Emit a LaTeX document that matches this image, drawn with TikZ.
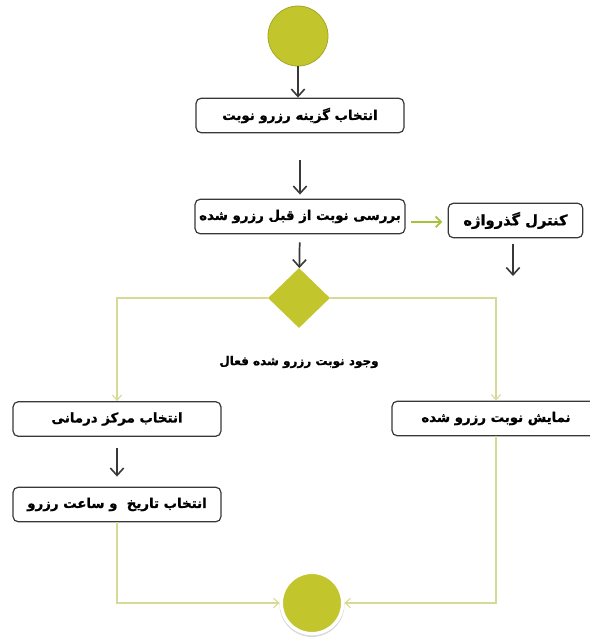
\documentclass[tikz,border=0pt]{standalone}
\usepackage{fontspec}
\newfontfamily\farsi[Script=Arabic,BoldFeatures={FakeBold=1.2}]{DejaVu Sans}
\TeXXeTstate=1
\usetikzlibrary{shapes.geometric,arrows.meta,shadows}
\definecolor{UmlOlive}{HTML}{C3C52C}
\definecolor{UmlOliveDark}{HTML}{A5A723}
\definecolor{PaleLine}{HTML}{D6DA94}
\definecolor{GreenArrow}{HTML}{A6C23A}
\definecolor{FlowGray}{HTML}{383838}
\begin{document}
\begin{tikzpicture}[x=0.75pt,y=-0.75pt,
	activity/.style={draw=FlowGray,line width=0.9pt,rounded corners=4pt,fill=white,inner sep=0pt,minimum width=156pt,minimum height=26pt,font=\farsi\bfseries\fontsize{10}{12}\selectfont},
	flow/.style={draw=FlowGray,line width=1.3pt,-{Straight Barb[length=5.5pt,width=10pt,line width=1.2pt]}},
	branch/.style={draw=PaleLine,line width=0.8pt,-{Straight Barb[length=4pt,width=7pt]}}]
	\useasboundingbox (0,0) rectangle (590,637);
	\clip (0,0) rectangle (590,637); % Clips the picture...
		\node[circle,fill=UmlOlive,draw=UmlOliveDark,line width=0.6pt,minimum size=45pt,inner sep=0pt] (Start) at (298,36) {};
		\node[activity] (ChooseOption) at (300,115.5) {\beginR انتخاب گزینه رزرو نوبت\endR};
		\node[activity,minimum width=157.5pt] (CheckBooked) at (300,216.5) {\beginR بررسی نوبت از قبل رزرو شده\endR};
		\node[activity,minimum width=101pt,font=\farsi\bfseries\fontsize{11}{13}\selectfont] (CheckPass) at (515.5,220.5) {\beginR کنترل گذرواژه\endR};
		\coordinate (PassEnd) at (513,276);
		\node[diamond,fill=UmlOlive,inner sep=0pt,minimum width=46.5pt,minimum height=45pt] (Decision) at (299,298) {};
		\node[font=\farsi\bfseries\fontsize{9}{11}\selectfont] (Exists) at (299,362) {\beginR وجود نوبت رزرو شده فعال\endR};
		\node[activity] (ChooseCenter) at (117,419) {\beginR انتخاب مرکز درمانی\endR};
		\node[activity] (ShowBooked) at (496,418.5) {\beginR نمایش نوبت رزرو شده\endR};
		\node[activity] (ChooseTime) at (117,504.5) {\beginR انتخاب تاریخ\ \ و ساعت رزرو\endR};
		\node[circle,fill=UmlOlive,draw=white,line width=2.5pt,minimum size=46pt,inner sep=0pt,
			drop shadow={opacity=0.3,shadow xshift=0pt,shadow yshift=-1pt,shadow scale=1.06}] (End) at (312,603) {};

		\draw[flow] (Start) -- (Start |- ChooseOption.north);% Start to first step
		\draw[flow,shorten <=20pt,shorten >=3pt] (ChooseOption) -- (CheckBooked);
		\draw[flow,shorten <=6pt] (CheckBooked) -- (Decision);
		\draw[flow,shorten <=4.5pt] (CheckPass.south -| PassEnd) -- (PassEnd);
		\draw[draw=GreenArrow,line width=1.3pt,-{Straight Barb[length=4pt,width=8pt]},shorten <=4pt,shorten >=4pt]
			([yshift=-4pt]CheckBooked.east) -- ([yshift=-4pt]CheckBooked.east -| CheckPass.west);
		\foreach \Side/\Box in {west/ChooseCenter,east/ShowBooked}{\draw[branch] (Decision.\Side) -| (\Box.north);}
		\draw[flow,shorten <=8pt,shorten >=7.5pt] (ChooseCenter) -- (ChooseTime);
		\draw[branch] (ChooseTime.south) |- (End.west);
		\draw[branch] (ShowBooked.south) |- (End.east);
	\end{tikzpicture}
\end{document}
